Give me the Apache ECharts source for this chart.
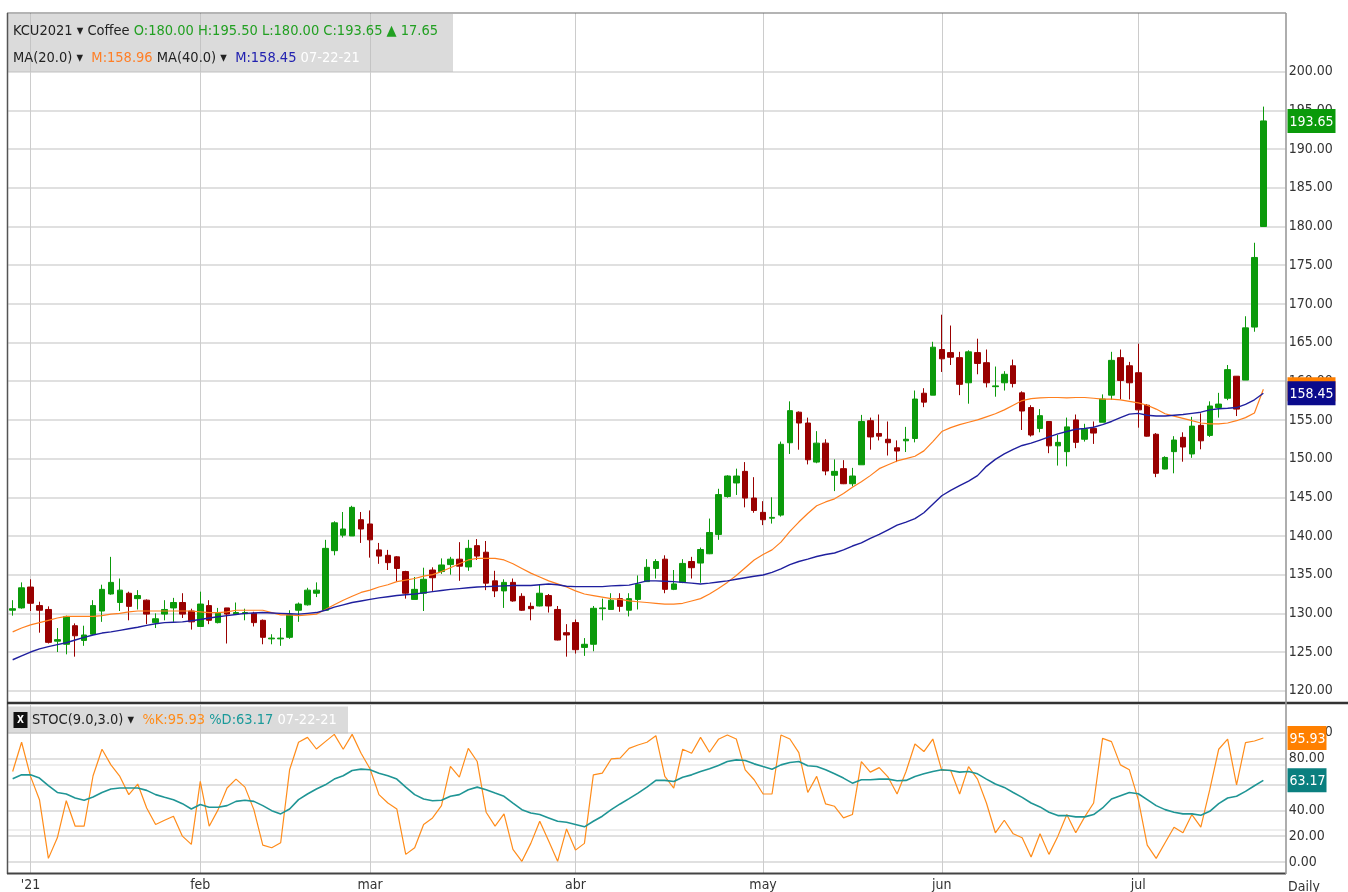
<!DOCTYPE html>
<html>
<head>
<meta charset="utf-8">
<script src="https://cdn.jsdelivr.net/npm/echarts@6/dist/echarts.min.js"></script>
<style>
  html, body { margin: 0; padding: 0; background: #fff; }
  #chart { width: 1348px; height: 892px; }
</style>
</head>
<body>
<div id="chart"></div>
<script>
// trading days, Dec 30 2020 .. Jul 22 2021
const dates = [
  '2020-12-30', '2020-12-31',
  '2021-01-04', '2021-01-05', '2021-01-06', '2021-01-07', '2021-01-08', '2021-01-11', '2021-01-12', '2021-01-13',
  '2021-01-14', '2021-01-15', '2021-01-19', '2021-01-20', '2021-01-21', '2021-01-22', '2021-01-25', '2021-01-26',
  '2021-01-27', '2021-01-28', '2021-01-29',
  '2021-02-01', '2021-02-02', '2021-02-03', '2021-02-04', '2021-02-05', '2021-02-08', '2021-02-09', '2021-02-10',
  '2021-02-11', '2021-02-12', '2021-02-16', '2021-02-17', '2021-02-18', '2021-02-19', '2021-02-22', '2021-02-23',
  '2021-02-24', '2021-02-25', '2021-02-26',
  '2021-03-01', '2021-03-02', '2021-03-03', '2021-03-04', '2021-03-05', '2021-03-08', '2021-03-09', '2021-03-10',
  '2021-03-11', '2021-03-12', '2021-03-15', '2021-03-16', '2021-03-17', '2021-03-18', '2021-03-19', '2021-03-22',
  '2021-03-23', '2021-03-24', '2021-03-25', '2021-03-26', '2021-03-29', '2021-03-30', '2021-03-31',
  '2021-04-01', '2021-04-05', '2021-04-06', '2021-04-07', '2021-04-08', '2021-04-09', '2021-04-12', '2021-04-13',
  '2021-04-14', '2021-04-15', '2021-04-16', '2021-04-19', '2021-04-20', '2021-04-21', '2021-04-22', '2021-04-23',
  '2021-04-26', '2021-04-27', '2021-04-28', '2021-04-29', '2021-04-30',
  '2021-05-03', '2021-05-04', '2021-05-05', '2021-05-06', '2021-05-07', '2021-05-10', '2021-05-11', '2021-05-12',
  '2021-05-13', '2021-05-14', '2021-05-17', '2021-05-18', '2021-05-19', '2021-05-20', '2021-05-21', '2021-05-24',
  '2021-05-25', '2021-05-26', '2021-05-27', '2021-05-28',
  '2021-06-01', '2021-06-02', '2021-06-03', '2021-06-04', '2021-06-07', '2021-06-08', '2021-06-09', '2021-06-10',
  '2021-06-11', '2021-06-14', '2021-06-15', '2021-06-16', '2021-06-17', '2021-06-18', '2021-06-21', '2021-06-22',
  '2021-06-23', '2021-06-24', '2021-06-25', '2021-06-28', '2021-06-29', '2021-06-30',
  '2021-07-01', '2021-07-02', '2021-07-06', '2021-07-07', '2021-07-08', '2021-07-09', '2021-07-12', '2021-07-13',
  '2021-07-14', '2021-07-15', '2021-07-16', '2021-07-19', '2021-07-20', '2021-07-21', '2021-07-22'
];

const monthStarts = ['2021-01-04', '2021-02-01', '2021-03-01', '2021-04-01', '2021-05-03', '2021-06-01', '2021-07-01'];
const monthLabels = ["'21", 'feb', 'mar', 'abr', 'may', 'jun', 'jul'];

const opens = [
  130.4, 130.7, 133.4, 131.0, 130.5, 126.4, 126.0, 128.4, 126.5, 127.3, 130.3, 132.5, 131.4, 132.6, 131.9, 131.7,
  128.8, 129.9, 130.7, 131.4, 130.3, 128.3, 131.0, 128.8, 130.7, 129.9, 129.95, 130.0, 129.1, 126.7, 126.7, 126.9,
  130.4, 131.1, 132.6, 130.4, 138.1, 140.1, 140.0, 142.1, 141.55, 138.2, 137.5, 137.3, 135.4, 131.8, 132.6, 135.6,
  135.4, 136.3, 137.0, 136.0, 138.75, 137.9, 134.2, 132.9, 134.0, 132.2, 130.9, 130.95, 132.3, 130.5, 127.5, 128.8,
  125.6, 126.0, 130.6, 130.5, 131.9, 130.4, 131.8, 134.1, 135.8, 137.0, 133.1, 134.0, 136.7, 136.5, 137.7, 140.2,
  145.1, 146.85, 148.35, 144.9, 143.05, 142.3, 142.7, 152.05, 156.0, 154.6, 149.55, 152.0, 147.85, 148.7, 146.75, 149.2,
  154.9, 153.25, 152.5, 151.4, 152.3, 152.6, 158.45, 158.2, 164.1, 163.7, 163.05, 159.8, 163.7, 162.4, 159.3, 159.8,
  162.0, 158.5, 156.6, 153.9, 154.8, 151.65, 150.9, 155.0, 152.5, 153.9, 154.7, 158.2, 163.05, 162.0, 161.1, 156.9,
  153.15, 148.65, 150.9, 152.75, 150.6, 154.3, 153.0, 156.6, 157.8, 160.65, 160.15, 167.0, 180.0
];
const highs = [
  131.7, 134.0, 134.4, 131.5, 130.9, 128.1, 129.7, 128.7, 128.4, 131.7, 133.7, 137.3, 134.5, 132.8, 133.0, 131.8,
  130.0, 131.7, 132.0, 132.6, 130.6, 132.8, 131.7, 130.7, 130.7, 131.4, 130.6, 130.2, 129.2, 127.3, 128.1, 130.4,
  131.4, 133.3, 134.0, 139.5, 141.9, 143.1, 143.9, 143.1, 143.3, 139.1, 138.2, 137.4, 135.5, 134.7, 135.9, 135.95,
  137.1, 137.3, 139.2, 139.5, 139.6, 139.35, 135.5, 134.4, 134.5, 132.6, 131.4, 133.7, 132.5, 130.95, 128.6, 129.2,
  126.8, 130.95, 131.9, 132.6, 132.6, 132.6, 134.9, 137.0, 137.0, 137.5, 135.6, 137.0, 137.3, 138.5, 142.25, 146.1,
  147.85, 148.7, 149.55, 147.6, 144.5, 145.0, 152.2, 157.4, 156.1, 155.3, 153.55, 152.5, 149.9, 149.8, 148.8, 155.65,
  155.3, 155.7, 154.8, 152.35, 154.1, 158.8, 159.1, 165.1, 168.6, 167.2, 163.8, 164.0, 165.5, 164.1, 161.9, 161.3,
  162.8, 158.7, 156.9, 156.4, 154.85, 153.05, 155.3, 155.7, 154.5, 154.8, 158.3, 163.8, 164.1, 162.5, 164.85, 157.05,
  153.3, 150.3, 152.9, 153.4, 155.4, 155.85, 157.4, 158.5, 162.1, 160.65, 168.4, 177.9, 195.5
];
const lows = [
  129.7, 130.6, 130.3, 127.5, 126.1, 125.0, 124.7, 124.4, 125.8, 127.2, 128.9, 132.4, 130.3, 129.1, 130.5, 128.6,
  128.1, 129.1, 128.9, 129.4, 127.9, 128.3, 128.6, 128.7, 126.1, 129.8, 129.1, 128.3, 126.0, 126.0, 125.8, 126.7,
  128.9, 131.0, 132.1, 130.4, 137.5, 139.8, 140.0, 139.1, 137.2, 136.4, 135.6, 134.1, 131.9, 131.8, 130.3, 132.9,
  135.1, 135.0, 134.2, 135.5, 136.9, 133.0, 132.1, 130.7, 131.5, 130.3, 129.1, 130.9, 130.1, 126.5, 124.4, 124.8,
  124.5, 125.1, 129.1, 130.5, 130.2, 129.6, 130.5, 134.1, 134.5, 132.6, 133.0, 133.9, 134.5, 133.95, 137.65, 139.5,
  144.95, 145.3, 143.7, 143.0, 141.4, 141.6, 142.5, 150.6, 151.15, 149.25, 149.4, 147.85, 145.8, 146.7, 146.4, 149.2,
  151.15, 152.35, 150.4, 149.55, 150.85, 152.1, 156.65, 158.2, 161.2, 162.1, 158.2, 157.1, 160.9, 159.2, 158.0, 158.8,
  159.2, 153.7, 152.85, 153.4, 150.7, 149.1, 149.0, 151.35, 152.2, 151.9, 154.7, 157.6, 157.65, 157.65, 154.0, 152.85,
  147.6, 148.6, 148.1, 149.6, 150.1, 151.2, 152.8, 155.3, 157.55, 155.5, 160.15, 166.4, 180.0
];
const closes = [
  130.6, 133.3, 131.3, 130.4, 126.25, 126.6, 129.6, 127.1, 127.2, 131.0, 133.1, 134.0, 133.0, 130.9, 132.3, 129.9,
  129.3, 130.5, 131.4, 129.9, 128.9, 131.2, 129.1, 130.0, 129.9, 130.1, 130.1, 128.8, 126.9, 126.8, 126.8, 129.8,
  131.2, 133.0, 133.0, 138.4, 141.7, 140.9, 143.7, 140.9, 139.5, 137.4, 136.55, 135.8, 132.6, 133.1, 134.4, 134.6,
  136.25, 137.0, 136.1, 138.4, 137.4, 133.9, 132.9, 134.0, 131.6, 130.4, 130.6, 132.6, 130.95, 126.55, 127.2, 125.3,
  126.0, 130.65, 130.7, 131.7, 130.9, 131.9, 133.75, 135.95, 136.7, 133.1, 133.8, 136.45, 135.9, 138.25, 140.45, 145.35,
  147.75, 147.75, 144.9, 143.3, 142.1, 142.4, 151.85, 156.2, 154.6, 149.85, 152.0, 148.4, 148.35, 146.75, 147.75, 154.8,
  152.8, 152.9, 152.05, 150.98, 152.5, 157.7, 157.3, 164.4, 162.9, 163.1, 159.6, 163.8, 162.3, 159.8, 159.4, 160.9,
  159.7, 156.15, 153.05, 155.55, 151.65, 152.1, 154.1, 152.1, 153.8, 153.3, 157.7, 162.7, 160.1, 159.8, 156.3, 152.9,
  148.1, 150.15, 152.4, 151.5, 154.2, 152.3, 156.8, 157.05, 161.5, 156.4, 166.9, 176.0, 193.65
];

// moving averages
const ma20 = [
  127.6, 128.1, 128.5, 128.8, 129.1, 129.4, 129.6, 129.6, 129.6, 129.6, 129.7, 129.9, 130.0, 130.2, 130.3, 130.3,
  130.3, 130.3, 130.3, 130.3, 130.3, 130.2, 130.1, 130.1, 130.2, 130.4, 130.4, 130.4, 130.4, 130.1, 129.8, 129.8,
  129.7, 129.8, 129.9, 130.5, 131.1, 131.7, 132.2, 132.7, 133.0, 133.4, 133.7, 134.1, 134.3, 134.5, 134.8, 135.0,
  135.4, 135.9, 136.4, 136.9, 137.1, 137.1, 137.1, 136.9, 136.4, 135.8, 135.2, 134.7, 134.2, 133.8, 133.4, 132.9,
  132.5, 132.3, 132.1, 131.9, 131.8, 131.6, 131.5, 131.4, 131.3, 131.2, 131.2, 131.3, 131.6, 131.9, 132.5, 133.2,
  134.0, 134.9, 135.9, 136.9, 137.6, 138.2, 139.2, 140.6, 141.8, 142.9, 143.9, 144.4, 144.8, 145.5, 146.3, 147.0,
  147.8, 148.7, 149.2, 149.7, 150.0, 150.3, 151.0, 152.2, 153.5, 154.0, 154.4, 154.7, 155.0, 155.4, 155.8, 156.3,
  156.9, 157.5, 157.75, 157.85, 157.9, 157.9, 157.85, 157.9, 157.9, 157.8, 157.7, 157.7, 157.6, 157.4, 157.2, 156.9,
  156.4, 155.8, 155.5, 155.2, 154.9, 154.6, 154.5, 154.5, 154.6, 154.9, 155.3, 155.9, 158.96
];
const ma40 = [
  124.0, 124.5, 125.0, 125.4, 125.7, 125.95, 126.2, 126.55, 126.9, 127.2, 127.45, 127.6, 127.8, 128.0, 128.2, 128.45,
  128.65, 128.8, 128.85, 128.9, 129.05, 129.2, 129.4, 129.55, 129.7, 129.85, 130.0, 130.05, 130.1, 130.05, 130.0, 129.95,
  129.9, 130.0, 130.1, 130.4, 130.8, 131.1, 131.4, 131.6, 131.8, 132.0, 132.15, 132.3, 132.4, 132.5, 132.65, 132.8,
  132.95, 133.1, 133.2, 133.3, 133.4, 133.45, 133.5, 133.55, 133.6, 133.6, 133.6, 133.7, 133.8, 133.7, 133.5, 133.45,
  133.45, 133.45, 133.45, 133.55, 133.6, 133.65, 133.9, 134.2, 134.2, 134.15, 134.1, 134.0, 133.9, 133.8, 133.9, 134.05,
  134.2, 134.4, 134.6, 134.8, 134.95, 135.3, 135.75, 136.3, 136.7, 137.0, 137.35, 137.6, 137.8, 138.2, 138.7, 139.1,
  139.7, 140.2, 140.8, 141.4, 141.8, 142.25, 143.0, 144.1, 145.2, 145.9, 146.5, 147.1, 147.8, 149.0, 149.9, 150.6,
  151.2, 151.7, 152.0, 152.4, 152.8, 153.2, 153.5, 153.8, 153.9, 154.05, 154.4, 154.8, 155.3, 155.75, 155.85, 155.6,
  155.5, 155.5, 155.6, 155.7, 155.85, 156.0, 156.3, 156.45, 156.5, 156.6, 157.0, 157.6, 158.45
];

// stochastic %K / %D
const stochK = [
  70.0, 92.6, 66.2, 48.2, 2.8, 18.7, 47.4, 27.7, 27.7, 66.7, 87.2, 75.1, 66.2, 52.1, 60.3, 41.8,
  29.0, 32.3, 35.4, 20.0, 13.6, 62.3, 27.7, 40.5, 57.2, 64.1, 57.9, 40.5, 13.1, 11.0, 14.9, 71.3,
  92.6, 96.4, 87.4, 93.1, 98.7, 87.2, 98.7, 84.1, 72.1, 52.1, 45.6, 41.0, 5.9, 11.0, 29.0, 34.1,
  43.6, 74.0, 65.6, 87.9, 77.7, 38.5, 27.7, 37.2, 9.7, 0.5, 14.4, 31.5, 16.2, 0.5, 25.6, 9.2,
  14.4, 67.4, 68.7, 79.7, 80.3, 87.9, 90.5, 92.6, 97.7, 66.2, 57.2, 87.2, 84.1, 96.4, 84.9, 94.9,
  98.2, 95.1, 71.3, 63.6, 52.6, 52.6, 98.2, 95.1, 84.6, 53.8, 66.2, 44.9, 43.1, 34.1, 36.7, 77.7,
  69.5, 73.0, 65.6, 52.6, 70.0, 91.3, 85.4, 95.1, 70.8, 70.8, 52.6, 73.8, 64.1, 45.6, 22.6, 32.3,
  21.8, 18.7, 3.8, 21.8, 5.9, 20.0, 36.7, 22.6, 34.9, 45.6, 95.6, 93.1, 75.1, 71.3, 48.2, 13.1,
  2.8, 14.9, 26.9, 22.6, 36.7, 26.9, 55.9, 87.2, 95.1, 59.7, 92.3, 93.6, 95.93
];
const stochD = [
  64.4, 67.4, 67.4, 64.9, 59.0, 53.8, 52.6, 49.5, 47.7, 50.3, 53.8, 56.4, 57.2, 57.2, 57.2, 55.4,
  52.1, 50.0, 48.2, 45.1, 41.0, 44.4, 42.3, 42.3, 43.6, 46.9, 47.7, 46.9, 43.6, 39.7, 37.2, 41.0,
  48.2, 52.6, 56.4, 59.7, 64.1, 66.7, 70.8, 71.8, 71.3, 68.7, 66.7, 64.1, 57.9, 52.1, 48.7, 47.4,
  47.7, 50.8, 52.1, 55.9, 57.9, 55.9, 53.3, 50.8, 45.6, 40.5, 37.9, 36.7, 34.1, 31.5, 30.8, 29.0,
  27.2, 31.5, 35.4, 40.5, 44.9, 49.0, 53.3, 57.9, 63.1, 63.1, 62.3, 65.6, 67.4, 70.0, 72.1, 74.6,
  77.7, 79.0, 78.5, 75.9, 73.8, 71.8, 75.1, 76.9, 77.7, 74.4, 73.8, 71.3, 68.2, 64.9, 61.0, 63.6,
  63.6, 64.1, 64.1, 62.8, 63.1, 66.2, 68.2, 70.0, 71.3, 70.8, 69.5, 70.0, 68.2, 64.1, 60.3, 57.7,
  53.8, 50.0, 45.6, 42.6, 38.5, 35.9, 35.9, 34.9, 34.9, 36.7, 41.8, 48.7, 51.3, 53.8, 52.8, 48.2,
  43.6, 40.5, 38.5, 37.2, 37.2, 36.2, 39.2, 45.1, 49.5, 50.8, 54.6, 59.0, 63.17
];

const UP = '#0b9a0b';
const DOWN = '#990000';
const ORANGE = '#ff7f1e';
const NAVY = '#1f1f9e';
const TEAL = '#1f9595';
const FONT = "'DejaVu Sans Condensed', 'DejaVu Sans', sans-serif";

// two spare slots on the right of the last session
const categories = dates.concat([' ', '  ']);
const candles = dates.map((d, i) => [opens[i], closes[i], lows[i], highs[i]]);

const isMonthStart = (idx, val) => monthStarts.indexOf(val) >= 0;

const chart = echarts.init(document.getElementById('chart'));

const vGrid = {
  show: true,
  interval: isMonthStart,
  alignWithLabel: true,
  lineStyle: { color: '#cccccc', width: 1 }
};
const bareX = (gridIndex, withGrid) => ({
  type: 'category', gridIndex: gridIndex, data: categories, boundaryGap: true,
  axisLine: { show: false }, axisTick: { show: false }, axisLabel: { show: false },
  splitLine: withGrid ? vGrid : { show: false }
});

const option = {
  animation: false,
  backgroundColor: '#ffffff',
  grid: [
    { left: 8.2, top: 33.1, width: 1277.5, height: 657.6 },   // price
    { left: 8.2, top: 732.7, width: 1277.5, height: 130 },    // stochastic
    { left: 8.2, top: 13, width: 1277.5, height: 690 },       // month lines, price panel
    { left: 8.2, top: 705, width: 1277.5, height: 168 }       // month lines, stochastic panel
  ],
  xAxis: [
    bareX(0, false),
    {
      type: 'category', gridIndex: 1, data: categories, boundaryGap: true,
      axisLine: { show: false },
      axisTick: { show: false },
      axisLabel: {
        interval: isMonthStart,
        formatter: (v) => { const k = monthStarts.indexOf(v); return k >= 0 ? monthLabels[k] : ''; },
        color: '#333', fontSize: 14, fontFamily: FONT, margin: 16
      },
      splitLine: { show: false }
    },
    bareX(2, true),
    bareX(3, true)
  ],
  yAxis: [
    {
      type: 'value', gridIndex: 0, position: 'right', min: 120, max: 205, interval: 5,
      axisLine: { show: false }, axisTick: { show: false },
      axisLabel: { formatter: (v) => v.toFixed(2), showMaxLabel: false, color: '#333', fontSize: 14, fontFamily: FONT, margin: 3 },
      splitLine: { showMaxLine: false, lineStyle: { color: '#d6d6d6', width: 1.6 } }
    },
    {
      type: 'value', gridIndex: 1, position: 'right', min: 0, max: 100, interval: 20,
      axisLine: { show: false }, axisTick: { show: false },
      axisLabel: { formatter: (v) => v.toFixed(2), color: '#333', fontSize: 14, fontFamily: FONT, margin: 3 },
      splitLine: { lineStyle: { color: '#d6d6d6', width: 1.6 } }
    },
    { type: 'value', gridIndex: 2, show: false },
    { type: 'value', gridIndex: 3, show: false }
  ],
  series: [
    {
      type: 'candlestick', name: 'KCU2021', xAxisIndex: 0, yAxisIndex: 0, data: candles, barWidth: 6,
      itemStyle: { color: UP, color0: DOWN, borderColor: UP, borderColor0: DOWN, borderWidth: 1 }
    },
    {
      type: 'line', name: 'MA20', xAxisIndex: 0, yAxisIndex: 0, data: ma20, showSymbol: false,
      lineStyle: { color: ORANGE, width: 1.2 }, z: 3
    },
    {
      type: 'line', name: 'MA40', xAxisIndex: 0, yAxisIndex: 0, data: ma40, showSymbol: false,
      lineStyle: { color: NAVY, width: 1.4 }, z: 3
    },
    {
      type: 'line', name: '%K', xAxisIndex: 1, yAxisIndex: 1, data: stochK, showSymbol: false,
      lineStyle: { color: '#ff8c1a', width: 1.2 },
      markLine: {
        silent: true, symbol: 'none', label: { show: false },
        lineStyle: { color: '#e8e8e8', width: 1.6, type: 'solid' },
        data: [{ yAxis: 25 }, { yAxis: 75 }], z: 1
      }
    },
    {
      type: 'line', name: '%D', xAxisIndex: 1, yAxisIndex: 1, data: stochD, showSymbol: false,
      lineStyle: { color: TEAL, width: 1.6 }
    }
  ]
};

chart.setOption(option);

// value tags on the right axis, placed through the axis scales; later tags sit on top
const last = dates.length - 1;
let tagZ = 100;
function tag(yAxisIndex, value, fill, width) {
  const y = chart.convertToPixel({ yAxisIndex: yAxisIndex }, value);
  tagZ += 2;
  return [
    { type: 'rect', z: tagZ, shape: { x: 1287.5, y: y - 12, width: width, height: 24 }, style: { fill: fill } },
    { type: 'text', z: tagZ + 1, style: { text: value.toFixed(2), x: 1289.5, y: y + 1, verticalAlign: 'middle',
      fill: '#ffffff', font: '14px ' + FONT } }
  ];
}

const HF = 14.5;
const headRich = {
  k: { fill: '#222', fontSize: HF, fontFamily: FONT },
  g: { fill: '#22a022', fontSize: HF, fontFamily: FONT },
  o: { fill: '#ff7f27', fontSize: HF, fontFamily: FONT },
  b: { fill: '#2222b0', fontSize: HF, fontFamily: FONT },
  w: { fill: '#ffffff', fontSize: HF, fontFamily: FONT },
  s: { fill: '#ff8c1a', fontSize: HF, fontFamily: FONT },
  t: { fill: '#1a9a9a', fontSize: HF, fontFamily: FONT }
};
const prevClose = closes[last - 1];
const chg = closes[last] - prevClose;
const f2 = (v) => v.toFixed(2);

const graphics = [
  // panel frame
  { type: 'line', shape: { x1: 7, y1: 13, x2: 1286, y2: 13 }, style: { stroke: '#6a6a6a', lineWidth: 1.2 }, z: 50 },
  { type: 'line', shape: { x1: 7.5, y1: 13, x2: 7.5, y2: 874 }, style: { stroke: '#555', lineWidth: 1.5 }, z: 50 },
  { type: 'line', shape: { x1: 7, y1: 703, x2: 1348, y2: 703 }, style: { stroke: '#333', lineWidth: 2.5 }, z: 50 },
  { type: 'line', shape: { x1: 7, y1: 873.5, x2: 1286, y2: 873.5 }, style: { stroke: '#444', lineWidth: 1.8 }, z: 50 },
  { type: 'line', shape: { x1: 1286, y1: 13, x2: 1286, y2: 874 }, style: { stroke: '#9a9a9a', lineWidth: 1.6 }, z: 50 },
  // header boxes
  { type: 'rect', shape: { x: 8, y: 14, width: 445, height: 58 }, style: { fill: 'rgba(190,190,190,0.55)' }, z: 40 },
  { type: 'rect', shape: { x: 8, y: 706.5, width: 340, height: 27 }, style: { fill: 'rgba(190,190,190,0.55)' }, z: 40 },
  {
    type: 'text', z: 60,
    style: {
      x: 13, y: 31, verticalAlign: 'middle',
      text: '{k|KCU2021 \u25BE Coffee }{g|O:' + f2(opens[last]) + ' H:' + f2(highs[last]) + ' L:' + f2(lows[last]) +
        ' C:' + f2(closes[last]) + ' \u25B2 ' + f2(chg) + '}',
      rich: headRich
    }
  },
  {
    type: 'text', z: 60,
    style: {
      x: 13, y: 58, verticalAlign: 'middle',
      text: '{k|MA(20.0) \u25BE  }{o|M:' + f2(ma20[last]) + ' }{k|MA(40.0) \u25BE  }{b|M:' + f2(ma40[last]) +
        ' }{w|07-22-21}',
      rich: headRich
    }
  },
  { type: 'rect', shape: { x: 13.5, y: 712, width: 14, height: 16 }, style: { fill: '#111' }, z: 60 },
  { type: 'text', z: 61, style: { x: 20.5, y: 720.5, text: 'X', align: 'center', verticalAlign: 'middle', fill: '#fff', font: 'bold 10px ' + FONT } },
  {
    type: 'text', z: 60,
    style: {
      x: 32, y: 720.5, verticalAlign: 'middle',
      text: '{k|STOC(9.0,3.0) \u25BE  }{s|%K:' + f2(stochK[last]) + ' }{t|%D:' + f2(stochD[last]) + ' }{w|07-22-21}',
      rich: headRich
    }
  },
  { type: 'text', z: 60, style: { x: 1288, y: 887, text: 'Daily', verticalAlign: 'middle', fill: '#333', font: '14px ' + FONT } }
].concat(
  tag(0, ma20[last], '#ff7f00', 48),
  tag(0, ma40[last], '#0a0a8c', 48),
  tag(0, closes[last], '#0a9a0a', 48),
  tag(1, stochK[last], '#ff8000', 39),
  tag(1, stochD[last], '#0a7f7f', 39)
);

chart.setOption({ graphic: graphics });
</script>
</body>
</html>
